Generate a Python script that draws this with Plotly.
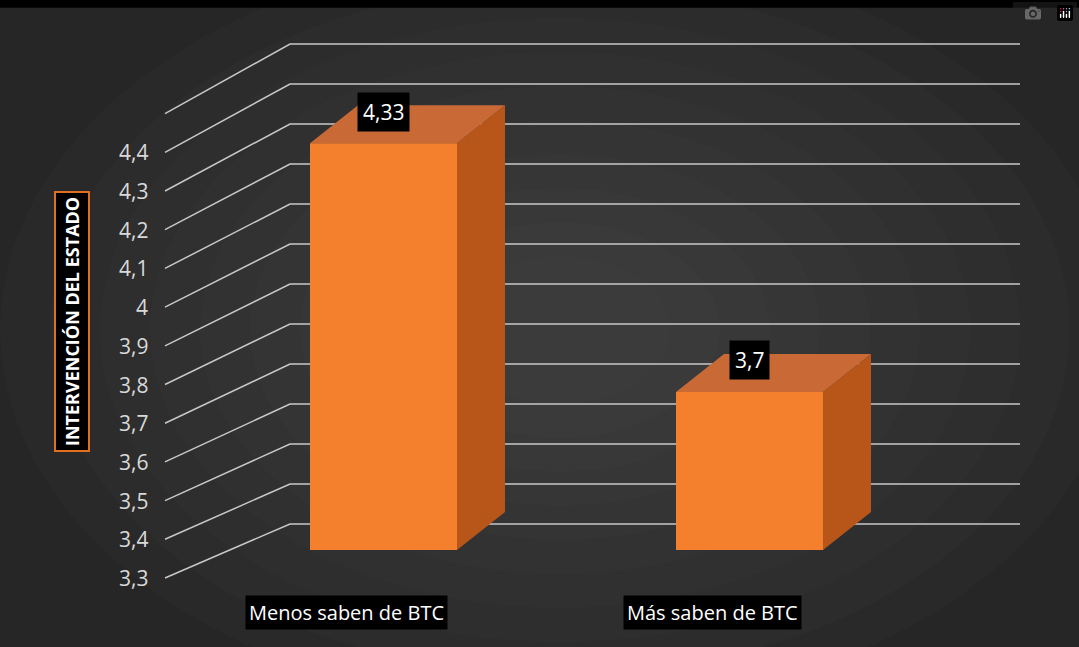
import plotly.graph_objects as go

categories = ["Menos saben de BTC", "Más saben de BTC"]
values = [4.33, 3.7]
value_labels = ["4,33", "3,7"]
tick_values = [3.3, 3.4, 3.5, 3.6, 3.7, 3.8, 3.9, 4.0, 4.1, 4.2, 4.3, 4.4]
tick_labels = ["3,3", "3,4", "3,5", "3,6", "3,7", "3,8", "3,9", "4", "4,1", "4,2", "4,3", "4,4"]
grid_values = tick_values + [4.5]

W, H = 1079, 647
BASE = 3.3
SCALE = 395.0          # px per value unit on the bar plane
BAR_BASE_PX = 550
bar_left = [310, 676]
bar_width = 147
depth_dx, depth_dy = 48, 38


def ypx(px):
    # pixel row -> value coordinate of the y axis
    return BASE + (BAR_BASE_PX - px) / SCALE


def front_px(v):
    return 578 - (v - BASE) * 387


def back_px(v):
    return 524 - (v - BASE) * 400


fig = go.Figure()

# soft background glow
for k in range(10):
    sx = 560 - k * 50
    sy = 380 - k * 34
    fig.add_shape(type="circle", xref="x", yref="y", layer="below", line_width=0,
                  fillcolor="#5c5c5c", opacity=0.07,
                  x0=560 - sx, x1=560 + sx, y0=ypx(330 + sy), y1=ypx(330 - sy))

# gridlines: oblique side + back wall
for v in grid_values:
    fx, fy = 165, front_px(v)
    bx, by = 290, back_px(v)
    fig.add_trace(go.Scatter(x=[fx, bx, 1020], y=[ypx(fy), ypx(by), ypx(by)],
                             mode="lines", line=dict(color="#c8c8c8", width=1.5),
                             hoverinfo="skip", showlegend=False))

# bars
for left, v in zip(bar_left, values):
    top = v
    r = left + bar_width
    ddy = depth_dy / SCALE
    fig.add_trace(go.Scatter(x=[r, r + depth_dx, r + depth_dx, r, r],
                             y=[BASE, BASE + ddy, top + ddy, top, BASE],
                             fill="toself", fillcolor="#b8561a", line_width=0,
                             mode="lines", hoverinfo="skip", showlegend=False))
    fig.add_trace(go.Scatter(x=[left, r, r + depth_dx, left + depth_dx, left],
                             y=[top, top, top + ddy, top + ddy, top],
                             fill="toself", fillcolor="#c96a36", line_width=0,
                             mode="lines", hoverinfo="skip", showlegend=False))
    fig.add_trace(go.Scatter(x=[left, r, r, left, left],
                             y=[BASE, BASE, top, top, BASE],
                             fill="toself", fillcolor="#f4802e", line_width=0,
                             mode="lines", hoverinfo="skip", showlegend=False))

# value labels
for left, v, lab in zip(bar_left, values, value_labels):
    fig.add_annotation(x=left + 73, y=v + 0.08, text=lab, showarrow=False,
                       font=dict(color="white", size=21), bgcolor="black", borderpad=5)

# category labels
for left, cat in zip(bar_left, categories):
    fig.add_annotation(x=left + 36, y=ypx(612), text=cat, showarrow=False,
                       font=dict(color="white", size=20), bgcolor="black", borderpad=3)

# tick labels
for v, lab in zip(tick_values, tick_labels):
    fig.add_annotation(x=150, y=ypx(front_px(v)), text=lab, showarrow=False,
                       xanchor="right", font=dict(color="#d9d9d9", size=21))

fig.add_annotation(x=72, y=ypx(322), text="<b>INTERVENCIÓN DEL ESTADO</b>", textangle=-90,
                   showarrow=False, font=dict(color="white", size=18),
                   bgcolor="black", bordercolor="#e07020", borderwidth=2, borderpad=4)

fig.add_shape(type="rect", xref="paper", yref="paper", x0=0, x1=1, y0=0.988, y1=1,
              fillcolor="black", line_width=0)

fig.update_layout(
    width=W, height=H, margin=dict(l=0, r=0, t=0, b=0),
    paper_bgcolor="#262626", plot_bgcolor="#262626",
    font=dict(family="Open Sans"),
    xaxis=dict(range=[0, W], visible=False, fixedrange=True),
    yaxis=dict(range=[ypx(H), ypx(0)], visible=False, fixedrange=True),
)

fig.write_html("out.html", post_script="document.body.style.margin='0';document.body.style.overflow='hidden';")
